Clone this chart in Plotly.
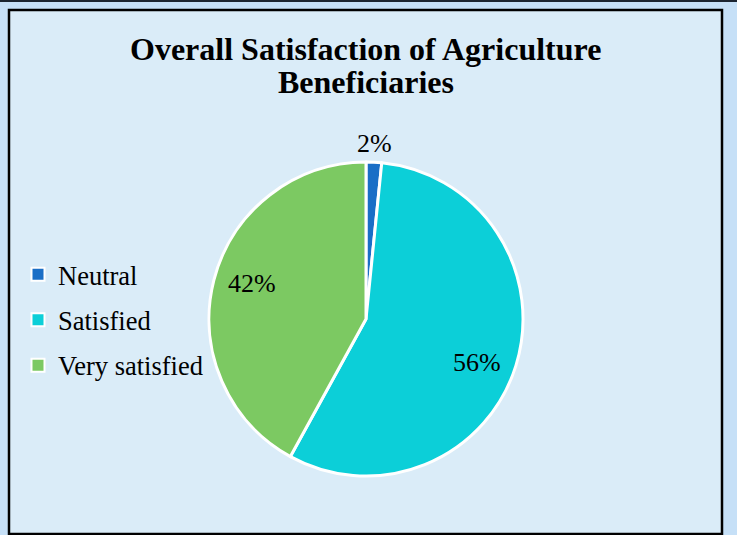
import math
import plotly.graph_objects as go

labels = ["Neutral", "Satisfied", "Very satisfied"]
values = [1.6, 56.4, 42.0]
percent_text = ["2%", "56%", "42%"]
colors = ["#1a6ec6", "#0ccfd8", "#7cc962"]
label_radius = [1.12, 0.76, 0.76]   # label distance from centre, as fraction of radius
label_shift_deg = [0, 4, 3]         # small clockwise nudge of the label from the mid-angle
title_lines = ["Overall Satisfaction of Agriculture", "Beneficiaries"]

W, H = 737, 535
cx, cy, r = 366, 319, 157
serif = "Liberation Serif"

fig = go.Figure()
fig.add_trace(go.Pie(
    labels=labels,
    values=values,
    sort=False,
    direction="clockwise",
    rotation=0,
    marker=dict(colors=colors, line=dict(color="white", width=3)),
    textinfo="none",
    hoverinfo="label+percent",
    showlegend=False,
    domain=dict(x=[(cx - r) / W, (cx + r) / W], y=[(H - cy - r) / H, (H - cy + r) / H]),
))

# legend entries (one group each so the group gap gives the spacing)
for lab, col in zip(labels, colors):
    fig.add_trace(go.Scatter(
        x=[None], y=[None], mode="markers", name=lab, legendgroup=lab,
        marker=dict(symbol="square", size=13, color=col, line=dict(color="white", width=2)),
        hoverinfo="skip",
    ))

# percentage labels positioned at each slice's mid-angle
annotations = []
total = sum(values)
start = 0.0
for v, txt, f, sh in zip(values, percent_text, label_radius, label_shift_deg):
    mid = (start + v / 2) / total * 2 * math.pi + math.radians(sh)
    start += v
    px = cx + f * r * math.sin(mid)
    py = cy - f * r * math.cos(mid)
    annotations.append(dict(text=txt, x=px / W, y=(H - py) / H, xref="paper", yref="paper",
                            xanchor="center", yanchor="middle", showarrow=False,
                            font=dict(family=serif, size=26, color="black")))

annotations += [
    dict(text="<b>%s</b>" % title_lines[0], x=365.5 / W, y=(H - 49) / H, xref="paper", yref="paper",
         xanchor="center", yanchor="middle", showarrow=False,
         font=dict(family=serif, size=32, color="black")),
    dict(text="<b>%s</b>" % title_lines[1], x=365.5 / W, y=(H - 82.5) / H, xref="paper", yref="paper",
         xanchor="center", yanchor="middle", showarrow=False,
         font=dict(family=serif, size=32, color="black")),
]

fig.update_layout(
    width=W, height=H,
    margin=dict(l=0, r=0, t=0, b=0),
    paper_bgcolor="#c6e0f7",
    plot_bgcolor="rgba(0,0,0,0)",
    xaxis=dict(visible=False),
    yaxis=dict(visible=False),
    showlegend=True,
    legend=dict(
        x=18 / W, y=(H - 320) / H, xanchor="left", yanchor="middle",
        font=dict(family=serif, size=26.5, color="black"),
        bgcolor="rgba(0,0,0,0)", itemwidth=30, tracegroupgap=8,
    ),
    shapes=[
        dict(type="rect", xref="paper", yref="paper", x0=0, x1=1, y0=(H - 2) / H, y1=1,
             fillcolor="#1b2430", line=dict(width=0), layer="below"),
        dict(type="rect", xref="paper", yref="paper", x0=9 / W, x1=722 / W, y0=1 / H, y1=(H - 10) / H,
             fillcolor="#daecf8", line=dict(color="black", width=2.5), layer="below"),
    ],
    annotations=annotations,
)

fig.write_html(
    "out.html",
    config={"displayModeBar": False},
    post_script="document.body.style.margin='0';document.body.style.background='#c6e0f7';",
)
